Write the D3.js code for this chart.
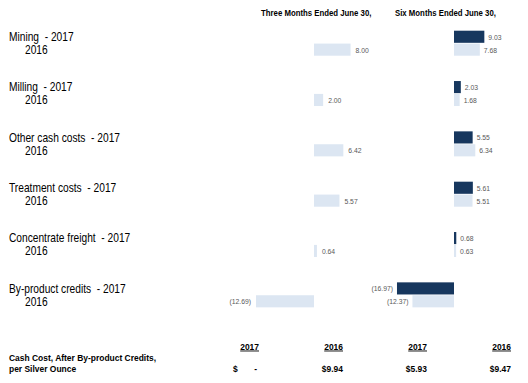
<!DOCTYPE html>
<html><head><meta charset="utf-8">
<script src="https://cdn.jsdelivr.net/npm/d3@7"></script>
<style>
html,body{margin:0;padding:0;background:#fff;}
svg{display:block;}
text{font-family:"Liberation Sans",Arial,sans-serif;white-space:pre;}
</style></head>
<body>
<script>
const categories = ["Mining", "Milling", "Other cash costs", "Treatment costs", "Concentrate freight", "By-product credits"];
const years = ["2017", "2016"];
const three2017 = [null, null, null, null, null, null];
const three2016 = [8.00, 2.00, 6.42, 5.57, 0.64, -12.69];
const six2017 = [9.03, 2.03, 5.55, 5.61, 0.68, -16.97];
const six2016 = [7.68, 1.68, 6.34, 5.51, 0.63, -12.37];
const panelTitles = ["Three Months Ended June 30,", "Six Months Ended June 30,"];
const summaryLabel = ["Cash Cost, After By-product Credits,", "per Silver Ounce"];
const summaryYears = ["2017", "2016", "2017", "2016"];
const summaryValues = ["-", "$9.94", "$5.93", "$9.47"];

const W = 528, H = 383;
const DARK = "#17375E", LIGHT = "#DCE6F2";
const SQ = 0.85, SQB = 0.94;

const svg = d3.select("body").append("svg").attr("width", W).attr("height", H);

const y = d3.scaleBand().domain(categories).range([30.7, 30.7 + 6 * 50.33]).paddingInner(0).paddingOuter(0);
const yIn = d3.scaleBand().domain(years).range([0, 25]).paddingInner(0.06);

const xThree = d3.scaleLinear().domain([0, 10]).range([314, 314 + 45.7]);
const xSix = d3.scaleLinear().domain([0, 10]).range([454, 454 + 33.6]);

function sqText(g, x, yy, txt, opts, sq) {
  const t = g.append("text")
    .attr("transform", `translate(${x},${yy}) scale(${sq || SQ},1)`)
    .text(txt);
  if (opts) Object.entries(opts).forEach(([k, v]) => t.attr(k, v));
  return t;
}

// category labels
const lab = svg.append("g");
categories.forEach((c, i) => {
  const top = y(c);
  sqText(lab, 9, top + yIn("2017") + yIn.bandwidth() / 2 + 4.3, c + "  - 2017", {"font-size": 12, fill: "#000"});
  sqText(lab, 25, top + yIn("2016") + yIn.bandwidth() / 2 + 4.3, "2016", {"font-size": 12, fill: "#000"});
});

// panel titles
sqText(svg, 261, 16, panelTitles[0], {"font-size": 8.3, "font-weight": "bold", fill: "#000"}, SQB);
sqText(svg, 395, 16, panelTitles[1], {"font-size": 8.3, "font-weight": "bold", fill: "#000"}, SQB);

function fmt(v) {
  return v < 0 ? "(" + d3.format(".2f")(-v) + ")" : d3.format(".2f")(v);
}

function drawPanel(x, series, gap) {
  const g = svg.append("g");
  series.forEach(([yr, vals, color]) => {
    vals.forEach((v, i) => {
      if (v === null) return;
      const top = y(categories[i]) + yIn(yr);
      const x0 = x(Math.min(0, v)), x1 = x(Math.max(0, v));
      g.append("rect").attr("x", x0).attr("y", top)
        .attr("width", Math.max(1, x1 - x0)).attr("height", yIn.bandwidth())
        .attr("fill", color);
      const ty = top + yIn.bandwidth() / 2 + 2.9;
      if (v >= 0) {
        sqText(g, x1 + gap, ty, fmt(v), {"font-size": 8, fill: "#595959"});
      } else {
        sqText(g, x0 - gap, ty, fmt(v), {"font-size": 8, fill: "#595959", "text-anchor": "end"});
      }
    });
  });
}
drawPanel(xThree, [["2017", three2017, DARK], ["2016", three2016, LIGHT]], 5);
drawPanel(xSix, [["2017", six2017, DARK], ["2016", six2016, LIGHT]], 4);

// summary table
const sumG = svg.append("g");
sqText(sumG, 9, 361, summaryLabel[0], {"font-size": 9, "font-weight": "bold", fill: "#000"}, SQB);
sqText(sumG, 9, 371.5, summaryLabel[1], {"font-size": 9, "font-weight": "bold", fill: "#000"}, SQB);
const colRight = [259, 343, 427, 511];
summaryYears.forEach((yr, i) => {
  sqText(sumG, colRight[i], 349.5, yr, {"font-size": 9, "font-weight": "bold", fill: "#000", "text-anchor": "end", "text-decoration": "underline"}, SQB);
});
sqText(sumG, 233, 371.5, "$", {"font-size": 9, "font-weight": "bold", fill: "#000"}, SQB);
summaryValues.forEach((v, i) => {
  const xx = i === 0 ? 257 : colRight[i];
  sqText(sumG, xx, 371.5, v, {"font-size": 9, "font-weight": "bold", fill: "#000", "text-anchor": "end"}, SQB);
});
</script>
</body></html>
